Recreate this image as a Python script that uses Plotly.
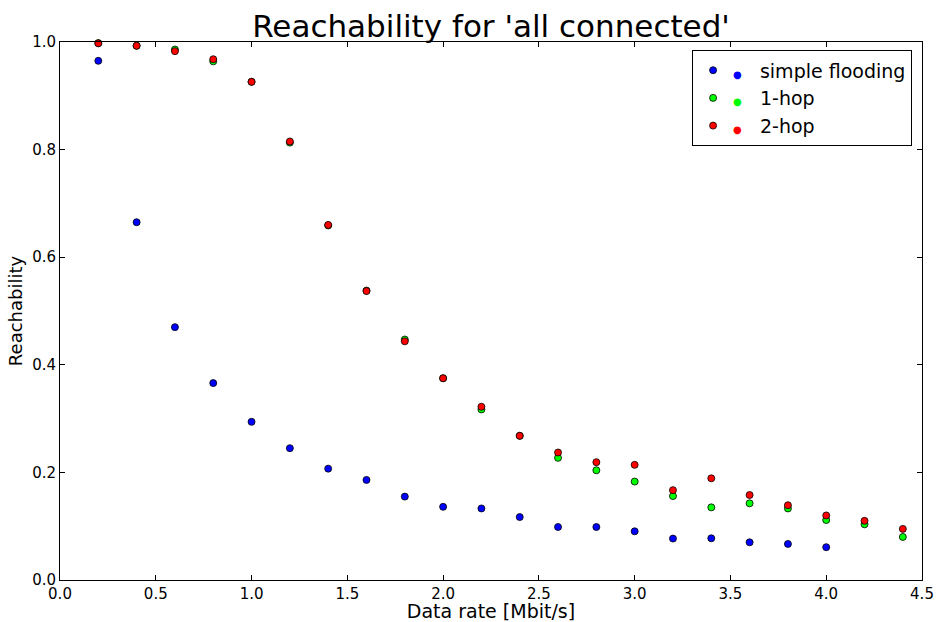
import plotly.graph_objects as go

rate_all = [0.2, 0.4, 0.6, 0.8, 1.0, 1.2, 1.4, 1.6, 1.8, 2.0, 2.2, 2.4, 2.6, 2.8,
            3.0, 3.2, 3.4, 3.6, 3.8, 4.0, 4.2, 4.4]
rate_flood = rate_all[:20]

simple_flooding = [0.965, 0.665, 0.470, 0.366, 0.294, 0.245, 0.207, 0.186, 0.155, 0.136,
                   0.133, 0.117, 0.0985, 0.0985, 0.0905, 0.077, 0.0775, 0.070, 0.067, 0.061]
one_hop = [0.998, 0.993, 0.986, 0.964, 0.926, 0.813, 0.659, 0.538, 0.447, 0.375, 0.317,
           0.268, 0.227, 0.204, 0.183, 0.156, 0.135, 0.1425, 0.133, 0.1115, 0.1035, 0.080]
two_hop = [0.9975, 0.993, 0.983, 0.968, 0.926, 0.815, 0.660, 0.537, 0.4436, 0.375, 0.322,
           0.268, 0.237, 0.219, 0.214, 0.167, 0.189, 0.158, 0.139, 0.120, 0.110, 0.095]

x_ticks = [0.0, 0.5, 1.0, 1.5, 2.0, 2.5, 3.0, 3.5, 4.0, 4.5]
y_ticks = [0.0, 0.2, 0.4, 0.6, 0.8, 1.0]

series = [
    ("simple flooding", rate_flood, simple_flooding, "#0000ff"),
    ("1-hop", rate_all, one_hop, "#00ff00"),
    ("2-hop", rate_all, two_hop, "#ff0000"),
]

fig = go.Figure()
for name, xs, ys, col in series:
    # matplotlib-style legend shows two markers per entry; second one drawn as coloured glyph
    label = f"<span style='color:{col};font-size:10px'>●</span>   {name}"
    fig.add_trace(go.Scatter(
        x=xs, y=ys, mode="markers", name=label,
        marker=dict(color=col, size=7, line=dict(color="black", width=0.8)),
        cliponaxis=False,
    ))

font = "DejaVu Sans"
axis_common = dict(
    showgrid=False, zeroline=False, showline=True, linecolor="black", linewidth=1,
    mirror="allticks", ticks="inside", ticklen=5, tickcolor="black", automargin=False,
    tickfont=dict(family=font, size=15, color="black"),
)

fig.update_layout(
    width=938, height=622,
    margin=dict(l=60, r=16, t=42, b=42),
    paper_bgcolor="white", plot_bgcolor="white",
    title=dict(text="Reachability for 'all connected'", x=0.5235, xanchor="center",
               y=0.958, yanchor="middle",
               font=dict(family=font, size=31, color="black")),
    xaxis=dict(range=[0, 4.5], tickvals=x_ticks, ticktext=[f"{v:.1f}" for v in x_ticks],
               title=dict(text="Data rate [Mbit/s]", font=dict(family=font, size=19, color="black"),
                          standoff=4),
               **axis_common),
    yaxis=dict(range=[0, 1.0], tickvals=y_ticks, ticktext=[f"{v:.1f}" for v in y_ticks],
               title=dict(text="Reachability", font=dict(family=font, size=18, color="black"),
                          standoff=4),
               **axis_common),
    legend=dict(x=0.9885, y=0.9845, xanchor="right", yanchor="top",
                bgcolor="white", bordercolor="black", borderwidth=1,
                font=dict(family=font, size=19, color="black"),
                itemsizing="trace"),
    showlegend=True,
)

fig.write_html("out.html")
